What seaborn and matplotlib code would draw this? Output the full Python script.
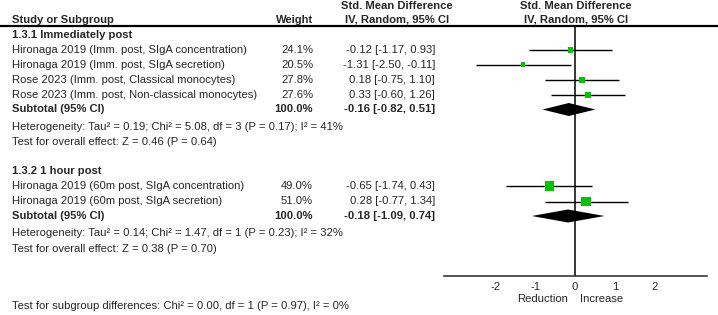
import matplotlib
matplotlib.use('Agg')
import matplotlib.pyplot as plt
import seaborn as sns

# ---- data ----
studies_1 = ['Hironaga 2019 (Imm. post, SIgA concentration)',
             'Hironaga 2019 (Imm. post, SIgA secretion)',
             'Rose 2023 (Imm. post, Classical monocytes)',
             'Rose 2023 (Imm. post, Non-classical monocytes)']
weights_1 = [24.1, 20.5, 27.8, 27.6]
smd_1 = [-0.12, -1.31, 0.18, 0.33]
lo_1 = [-1.17, -2.50, -0.75, -0.60]
hi_1 = [0.93, -0.11, 1.10, 1.26]
subtotal_1 = [-0.16, -0.82, 0.51]

studies_2 = ['Hironaga 2019 (60m post, SIgA concentration)',
             'Hironaga 2019 (60m post, SIgA secretion)']
weights_2 = [49.0, 51.0]
smd_2 = [-0.65, 0.28]
lo_2 = [-1.74, -0.77]
hi_2 = [0.43, 1.34]
subtotal_2 = [-0.18, -1.09, 0.74]

x_ticks = [-2, -1, 0, 1, 2]

# ---- layout (pixel rows) ----
W, H = 718, 315
rows_1 = [50, 64.5, 80, 95]
sub_y_1 = 109.5
rows_2 = [186, 201.5]
sub_y_2 = 216
axis_y = 276
top_y = 26
green = '#00C400'
fs = 8.1

sns.set_style('white')
plt.rcParams['font.family'] = ['Liberation Sans', 'DejaVu Sans']

fig = plt.figure(figsize=(W / 100, H / 100), dpi=100)
ax_t = fig.add_axes([0, 0, 1, 1])
ax_t.set_xlim(0, W)
ax_t.set_ylim(H, 0)
ax_t.axis('off')

def txt(x, y, s, ha='left', bold=False):
    ax_t.text(x, y, s, ha=ha, va='center', fontsize=fs,
              fontweight='bold' if bold else 'normal')

# headers
txt(397, 6, 'Std. Mean Difference', ha='center', bold=True)
txt(397, 20, 'IV, Random, 95% CI', ha='center', bold=True)
txt(576, 6, 'Std. Mean Difference', ha='center', bold=True)
txt(576, 20, 'IV, Random, 95% CI', ha='center', bold=True)
txt(12, 20, 'Study or Subgroup', bold=True)
txt(313, 20, 'Weight', ha='right', bold=True)
ax_t.plot([0, W], [top_y, top_y], color='black', lw=1.6)

def block(title, y0, studies, weights, smd, lo, hi, rows, sub, sub_y, het, overall):
    txt(12, y0, title, bold=True)
    for s, w, e, l, h, y in zip(studies, weights, smd, lo, hi, rows):
        txt(12, y, s)
        txt(313, y, f'{w:.1f}%', ha='right')
        txt(435, y, f'{e:.2f} [{l:.2f}, {h:.2f}]', ha='right')
    txt(12, sub_y, 'Subtotal (95% CI)', bold=True)
    txt(313, sub_y, '100.0%', ha='right', bold=True)
    txt(435, sub_y, f'{sub[0]:.2f} [{sub[1]:.2f}, {sub[2]:.2f}]', ha='right', bold=True)
    txt(12, sub_y + 17.5, het)
    txt(12, sub_y + 32.5, overall)

block('1.3.1 Immediately post', 35, studies_1, weights_1, smd_1, lo_1, hi_1,
      rows_1, subtotal_1, sub_y_1,
      'Heterogeneity: Tau² = 0.19; Chi² = 5.08, df = 3 (P = 0.17); I² = 41%',
      'Test for overall effect: Z = 0.46 (P = 0.64)')
block('1.3.2 1 hour post', 171, studies_2, weights_2, smd_2, lo_2, hi_2,
      rows_2, subtotal_2, sub_y_2,
      'Heterogeneity: Tau² = 0.14; Chi² = 1.47, df = 1 (P = 0.23); I² = 32%',
      'Test for overall effect: Z = 0.38 (P = 0.70)')
txt(12, 306, 'Test for subgroup differences: Chi² = 0.00, df = 1 (P = 0.97), I² = 0%')

# ---- forest axes ----
x0, x1 = 444, 707
ax = fig.add_axes([x0 / W, (H - axis_y) / H, (x1 - x0) / W, (axis_y - top_y) / H])
ax.set_xlim(-3.3, 3.32)
ax.set_ylim(axis_y, top_y)
ax.patch.set_alpha(0)
for side in ['top', 'right', 'left']:
    ax.spines[side].set_visible(False)
ax.spines['bottom'].set_linewidth(1.1)
ax.set_yticks([])
ax.set_xticks(x_ticks)
ax.set_xticklabels([str(t) for t in x_ticks], fontsize=fs)
ax.tick_params(axis='x', direction='inout', length=6, width=1.1, pad=1)
ax.axvline(0, color='black', lw=1.1)

all_smd = smd_1 + smd_2
all_lo = lo_1 + lo_2
all_hi = hi_1 + hi_2
all_w = weights_1 + weights_2
all_rows = rows_1 + rows_2
ax.hlines(all_rows, all_lo, all_hi, color='black', lw=1)
sizes = [((0.17 * w + 1.2) * 0.72) ** 2 for w in all_w]
sns.scatterplot(x=all_smd, y=all_rows, s=sizes, marker='s', color=green,
                edgecolor='none', ax=ax, legend=False, zorder=3)

for sub, y in [(subtotal_1, sub_y_1), (subtotal_2, sub_y_2)]:
    e, l, h = sub
    ax.fill([l, e, h, e], [y, y - 6.5, y, y + 6.5], color='black', lw=0, zorder=3)

ax.text(-0.18, 299, 'Reduction', ha='right', va='center', fontsize=fs, clip_on=False)
ax.text(0.13, 299, 'Increase', ha='left', va='center', fontsize=fs, clip_on=False)

fig.savefig('out.png', dpi=100)
